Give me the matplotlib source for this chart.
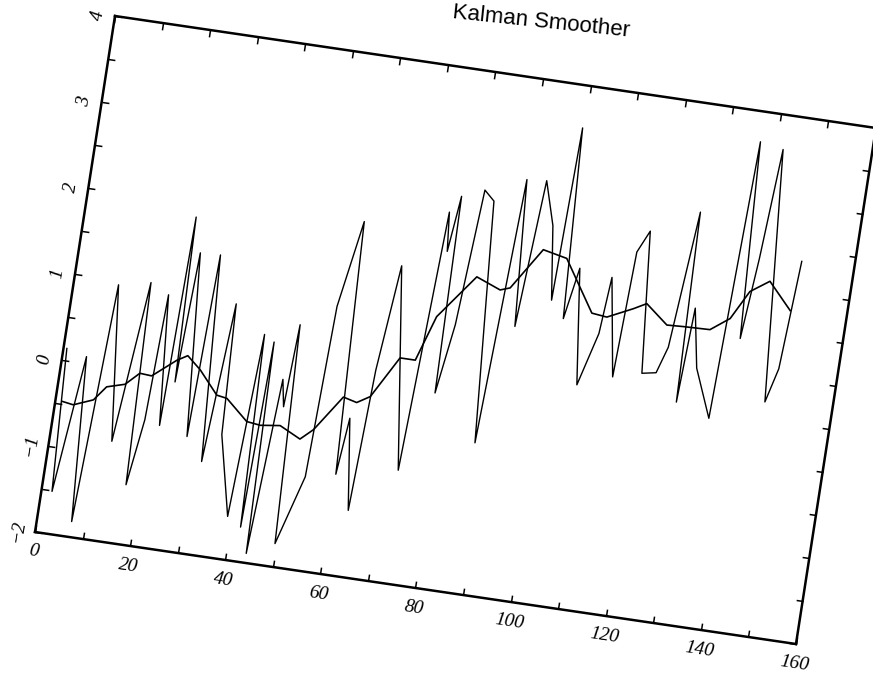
import numpy as np
import matplotlib.pyplot as plt
from matplotlib.transforms import Affine2D, offset_copy
import mpl_toolkits.axisartist.floating_axes as floating_axes
from mpl_toolkits.axisartist.grid_finder import FixedLocator

obs_x = [0.7, 2.2, 5.0, 7.2, 9.3, 12.9, 15.9, 17.2, 19.0, 19.9, 22.2, 23.1, 24.0, 25.1,
         28.2, 29.3, 32.0, 34.1, 35.3, 39.1, 40.9, 42.1, 43.1, 44.1, 46.1, 47.1, 47.9,
         49.7, 53.8, 54.9, 57.8, 60.0, 61.1, 63.7, 64.9, 66.9, 72.7, 75.0, 75.8, 77.0,
         77.8, 79.8, 81.6, 83.8, 87.6, 89.9, 92.1, 94.0, 96.7, 98.8, 99.7, 101.8, 103.6,
         106.7, 109.6, 110.5, 113.8, 114.8, 116.9, 119.7, 122.6, 124.3, 126.6, 127.7,
         128.6, 130.8, 134.9, 136.7, 138.8, 140.2, 141.6, 145.9, 147.7, 149.0]
obs_y = [0.14, -1.51, 0.08, -1.82, 0.95, -0.84, 1.03, -1.31, -0.54, 0.92, -0.58, 1.85,
         -0.06, 1.45, -0.66, 1.46, -0.92, 0.93, -0.58, -1.50, 0.63, -1.60, 0.56, -1.89,
         0.15, -0.16, 0.80, -1.73, -0.92, 1.07, 2.08, -0.84, -0.18, -1.23, 0.41, 1.64,
         -0.69, 2.33, 1.88, 2.53, 0.25, 1.06, 2.64, 2.53, -0.25, 2.83, 1.14, 2.85, 2.35,
         1.50, 3.51, 1.31, 1.91, 0.58, 1.20, 1.86, 0.73, 2.19, 2.45, 0.82, 0.85, 1.16,
         2.75, 0.55, 1.65, 0.97, 0.42, 3.65, 1.38, 2.32, 3.60, 0.70, 1.10, 2.36]

# Kalman smoother
smooth_x = [1.5, 3.8, 7.8, 10.1, 13.8, 16.5, 19.0, 23.7, 25.8, 28.8, 33.0, 35.2, 40.0,
            42.9, 47.0, 51.5, 54.0, 59.1, 62.0, 64.6, 69.5, 72.7, 75.7, 79.2, 82.7, 87.9,
            89.9, 95.5, 100.6, 107.5, 110.7, 115.9, 118.5, 123.3, 126.7, 132.3, 136.1,
            139.3, 143.1, 148.2]
smooth_y = [-0.47, -0.49, -0.40, -0.23, -0.17, -0.02, -0.03, 0.19, 0.26, 0.12, -0.14,
            -0.16, -0.39, -0.41, -0.38, -0.50, -0.37, 0.05, 0.01, 0.10, 0.59, 0.59, 1.12,
            1.38, 1.64, 1.53, 1.57, 2.06, 2.00, 1.42, 1.40, 1.54, 1.62, 1.41, 1.42, 1.43,
            1.59, 1.93, 2.08, 1.78]

x_ticks = np.arange(0, 161, 10)
x_label_pos = list(range(0, 161, 20))
y_ticks = np.arange(-2, 4.01, 0.5)
y_label_pos = list(range(-2, 5))

# the page was scanned tilted, so map data -> figure pixels with an affine
tr = Affine2D(np.array([[4.756, 13.33, 61.67],
                        [-0.70, 86.0, 318.0],
                        [0.0, 0.0, 1.0]]))

grid_helper = floating_axes.GridHelperCurveLinear(
    tr, extremes=(0, 160, -2, 4),
    grid_locator1=FixedLocator(x_ticks), grid_locator2=FixedLocator(y_ticks))

fig = plt.figure(figsize=(8.73, 6.78), dpi=100)
ax = fig.add_axes([0, 0, 1, 1], axes_class=floating_axes.FloatingAxes,
                  grid_helper=grid_helper)
ax.set_xlim(0, 873)
ax.set_ylim(0, 678)

for side in ['left', 'right', 'top', 'bottom']:
    ax.axis[side].line.set_linewidth(1.8)
    ax.axis[side].major_ticks.set_ticksize(5)
    ax.axis[side].major_ticks.set_markeredgewidth(1.1)
    ax.axis[side].major_ticklabels.set_visible(False)

aux = ax.get_aux_axes(tr)
aux.plot(obs_x, obs_y, color='black', lw=1.0)
aux.plot(smooth_x, smooth_y, color='black', lw=1.2)

# tick labels, turned with the tilted frame
lab_font = dict(family='Liberation Serif', style='italic', fontsize=14,
                ha='center', va='center', rotation_mode='anchor')
below = offset_copy(aux.transData, fig=fig, x=-1.5, y=-19.5, units='dots')
for v in x_label_pos:
    aux.text(v, -2, str(v), transform=below, rotation=-8.4, **lab_font)
left = offset_copy(aux.transData, fig=fig, x=-17, y=1, units='dots')
for v in y_label_pos:
    aux.text(0, v, str(v).replace('-', '\u2212'), transform=left, rotation=81, **lab_font)

fig.text(541 / 873, 1 - 22 / 678, 'Kalman Smoother', rotation=-6,
         ha='center', va='center', rotation_mode='anchor',
         fontsize=16, family='Liberation Sans')

fig.savefig('out.png', dpi=100)
